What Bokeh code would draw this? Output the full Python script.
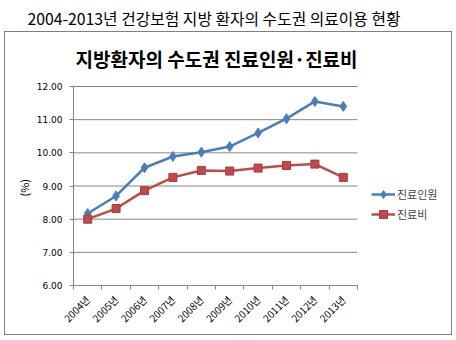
import math
from bokeh.plotting import figure
from bokeh.models import (Range1d, FixedTicker, Title, Label, Legend, LegendItem,
                          NumeralTickFormatter, InlineStyleSheet)
from bokeh.embed import file_html
from bokeh.resources import INLINE

years = ["2004년", "2005년", "2006년", "2007년", "2008년",
         "2009년", "2010년", "2011년", "2012년", "2013년"]
patients = [8.17, 8.70, 9.55, 9.89, 10.02, 10.19, 10.60, 11.03, 11.55, 11.40]
costs = [8.00, 8.32, 8.86, 9.26, 9.47, 9.45, 9.54, 9.62, 9.66, 9.26]
y_ticks = [6, 7, 8, 9, 10, 11, 12]

page_title = "2004-2013년 건강보험 지방 환자의 수도권 의료이용 현황"
chart_title = "지방환자의 수도권 진료인원·진료비"
y_unit = "(%)"

KR = "Noto Sans CJK KR"
GRID = "#868686"
BLUE = "#4a7ebb"
RED = "#be4b48"

n = len(years)
y_lo, y_hi = y_ticks[0], y_ticks[-1]
# each year occupies one unit slot; points sit at the slot centres
slot_centres = [i + 0.5 for i in range(n)]
slot_edges = list(range(n + 1))

# The frame runs on to the right edge (room for the legend) and up to the
# chart box (room for the chart title): the plotted area is the lower-left
# 284 x 199 pixels of a 377 x 253 frame.
x_end = n * 377 / 284
y_end = y_lo + (y_hi - y_lo) * 253 / 199
p = figure(width=456, height=340, x_range=Range1d(0, x_end), y_range=Range1d(y_lo, y_end),
           output_backend="svg", toolbar_location=None,
           min_border_left=73, min_border_right=6, min_border_top=32, min_border_bottom=55)
p.outline_line_color = None
p.background_fill_color = "white"
p.border_fill_color = "white"

xa = p.xaxis[0]
xa.bounds = (0, n)
xa.ticker = FixedTicker(ticks=slot_centres, minor_ticks=slot_edges)
xa.major_label_overrides = {c: y for c, y in zip(slot_centres, years)}
xa.axis_line_color = GRID
xa.major_tick_line_color = None
xa.minor_tick_line_color = GRID
xa.minor_tick_out = 4
xa.minor_tick_in = 0
xa.major_label_orientation = math.pi / 4
xa.major_label_text_font = KR
xa.major_label_text_font_size = "10px"
xa.major_label_text_color = "black"
xa.major_label_standoff = 6

ya = p.yaxis[0]
ya.bounds = (y_lo, y_hi)
ya.ticker = FixedTicker(ticks=y_ticks)
ya.formatter = NumeralTickFormatter(format="0.00")
ya.major_label_text_font = "DejaVu Sans"
ya.major_label_text_font_size = "9px"
ya.major_label_text_color = "black"
ya.major_label_standoff = 7
ya.major_tick_out = 4
ya.major_tick_in = 0
ya.minor_tick_line_color = None
ya.axis_line_color = GRID
ya.major_tick_line_color = GRID

# unit label beside the y axis, placed along the plotted 6-12 span
p.add_layout(Title(text=y_unit, align="left", offset=89, text_font=KR,
                   text_font_size="11px", text_font_style="normal", text_color="black",
                   standoff=4), "left")

p.xgrid.grid_line_color = None
p.ygrid.grid_line_color = None
# horizontal grid lines across the plotted slots only
p.segment(x0=0, x1=n, y0=y_ticks, y1=y_ticks, line_color=GRID, line_width=1)

l1 = p.line(slot_centres, patients, line_color=BLUE, line_width=2.5)
m1 = p.scatter(slot_centres, patients, marker="diamond", size=10, fill_color=BLUE, line_color=BLUE)
l2 = p.line(slot_centres, costs, line_color=RED, line_width=2.5)
m2 = p.scatter(slot_centres, costs, marker="square", size=8, fill_color=RED, line_color="#a33b38")

legend = Legend(items=[LegendItem(label="진료인원", renderers=[l1, m1]),
                       LegendItem(label="진료비", renderers=[l2, m2])],
                location=(298, 61), orientation="vertical")
legend.border_line_color = None
legend.background_fill_alpha = 0
legend.padding = 0
legend.margin = 0
legend.spacing = 0
legend.glyph_width = 24
legend.glyph_height = 20
legend.label_height = 20
legend.label_standoff = 2
legend.label_text_font = KR
legend.label_text_font_size = "11px"
p.add_layout(legend, "center")

# chart title inside the box, page title above it
p.add_layout(Label(x=2, y=227, x_units="screen", y_units="screen", text=chart_title,
                   text_font=KR, text_font_size="19px", text_font_style="bold",
                   text_color="black", text_align="left", text_baseline="middle"))
p.add_layout(Title(text=page_title, align="left", offset=-46, text_font=KR,
                   text_font_size="15.8px", text_font_style="normal", text_color="black",
                   standoff=6), "above")

# grey frame around the chart area, below the page title
p.stylesheets = [InlineStyleSheet(css="""
:host { position: relative; }
:host::after {
  content: ""; position: absolute; pointer-events: none;
  left: 4px; top: 31px; width: 448px; height: 304px;
  border: 1.5px solid #7f7f7f; box-sizing: border-box;
}
""")]

open("out.html", "w").write(file_html(p, INLINE))
